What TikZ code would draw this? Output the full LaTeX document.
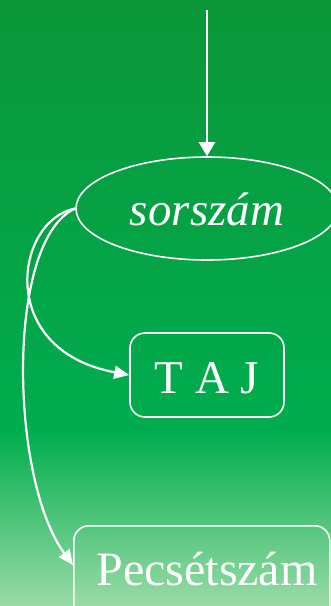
\documentclass[tikz,border=0pt]{standalone}
\usepackage{fontspec}
\setmainfont{Liberation Serif}[ItalicFont={Liberation Serif Italic}]
\usetikzlibrary{shapes.geometric,arrows.meta}
\definecolor{gtop}{HTML}{0A9639}
\definecolor{gmid}{HTML}{00AD4E}
\definecolor{gbot}{HTML}{9ADBA6}
\tikzset{
  wire/.style={draw=white, line width=2.2pt},
  tip/.style={-{Triangle[length=14pt,width=16pt]}},
  smalltip/.style={-{Triangle[length=15pt,width=13pt]}},
  boxnode/.style={draw=white, line width=1.6pt, rounded corners=15pt, inner sep=0pt},
  lbl/.style={text=white, inner sep=0pt},
}
\begin{document}
\begin{tikzpicture}[x=1pt,y=-1pt]
\useasboundingbox (0,0) rectangle (331,606);
\clip (0,0) rectangle (331,606);
\shade[top color=gtop, bottom color=gmid] (0,0) rectangle (331,430);
\shade[top color=gmid, bottom color=gbot] (0,430) rectangle (331,606);
\node[ellipse, draw=white, line width=1.6pt, minimum width=262pt, minimum height=103pt, inner sep=0pt] (s) at (207,208.5) {};
\node[lbl, font=\fontsize{47}{47}\selectfont\itshape, anchor=base] (st) at (207,225) {sorszám};
\node[boxnode, minimum width=154pt, minimum height=84pt] (t) at (207,375) {};
\node[lbl, font=\fontsize{47}{47}\selectfont, anchor=base] (tt) at (207,393) {T A J};
\node[boxnode, minimum width=256pt, minimum height=130pt, anchor=north west] (p) at (73,525) {};
\node[lbl, font=\fontsize{48}{48}\selectfont, anchor=base] (pt) at (207,585) {Pecsétszám};
\coordinate (top) at (207,10);
\draw[wire, tip] (top) -- (s.north);
\draw[wire, smalltip] (s.west) .. controls (15,220) and (-5,350) .. (t.west);
\draw[wire, smalltip] (s.west) .. controls (5,240) and (10,480) .. ([yshift=-40pt]p.north west);
\end{tikzpicture}
\end{document}
